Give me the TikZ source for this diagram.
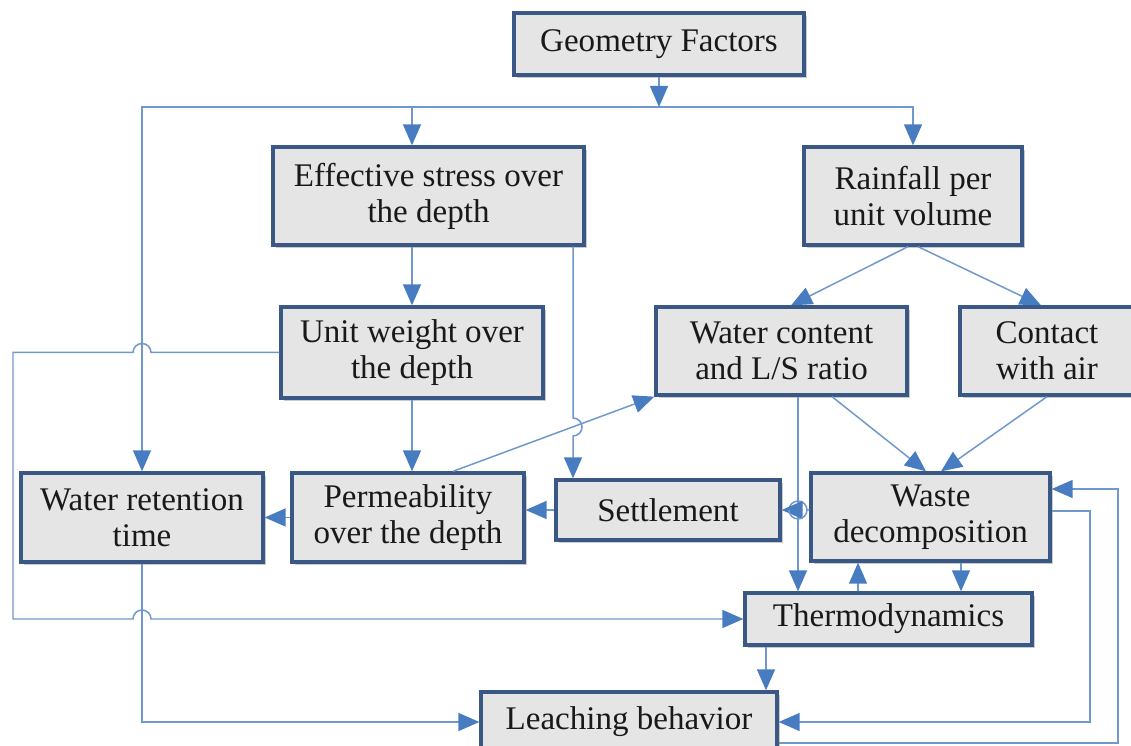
\documentclass[tikz,border=0pt]{standalone}
\usepackage{fontspec}
\setmainfont{Liberation Serif}
\usetikzlibrary{arrows.meta,positioning,calc,shadows}
\definecolor{boxline}{RGB}{58,88,134}
\definecolor{boxfill}{RGB}{229,229,229}
\definecolor{conn}{RGB}{112,152,204}
\definecolor{tipblue}{RGB}{72,124,192}

\begin{document}
\begin{tikzpicture}[x=0.02cm,y=0.02cm,
  box/.style={draw=boxline,line width=1.9pt,fill=boxfill,align=center,inner sep=0pt,
    font=\fontsize{18.8}{20.5}\selectfont,text=black!90,
    drop shadow={shadow xshift=0.06cm,shadow yshift=-0.06cm,opacity=0.35,fill=black!60}},
  ln/.style={draw=conn,line width=0.85pt},
  arr/.style={ln,-{Triangle[length=0.42cm,width=0.36cm,color=tipblue]}}]
  \useasboundingbox (0,0) rectangle (1131,746);
  \node[box,minimum width=5.8cm,minimum height=1.24cm] (geo) at (659,702) {Geometry Factors};
  \node[box,minimum width=6.22cm,minimum height=1.96cm] (eff) at (428.5,550) {Effective stress over\\the depth};
  \node[box,minimum width=4.36cm,minimum height=1.96cm] (rain) at (913,550) {Rainfall per\\unit volume};
  \node[box,minimum width=5.24cm,minimum height=1.82cm] (uw) at (412,393.5) {Unit weight over\\the depth};
  \node[box,minimum width=5.02cm,minimum height=1.76cm] (water) at (781.5,395) {Water content\\and L/S ratio};
  \node[box,minimum width=3.48cm,minimum height=1.76cm] (contact) at (1047,395) {Contact\\with air};
  \node[box,minimum width=4.84cm,minimum height=1.78cm] (wret) at (142,228.5) {Water retention\\time};
  \node[box,minimum width=4.64cm,minimum height=1.78cm] (perm) at (408,228.5) {Permeability\\over the depth};
  \node[box,minimum width=4.48cm,minimum height=1.2cm] (sett) at (668,236) {Settlement};
  \node[box,minimum width=4.78cm,minimum height=1.76cm] (waste) at (930.5,229) {Waste\\decomposition};
  \node[box,minimum width=5.74cm,minimum height=1.04cm] (thermo) at (888.5,127) {Thermodynamics};
  \node[box,minimum width=5.92cm,minimum height=1.2cm] (leach) at (629,24) {Leaching behavior};

  \coordinate (bus) at (659,639);
  \coordinate (hx) at (142,0);
  \coordinate (lx) at (13,0);
  \coordinate (sx) at (573,319);
  \coordinate (vx) at (798,0);
  \coordinate (tx) at (766,0);
  \coordinate (rx1) at (1090,0);
  \coordinate (rx2) at (1118,0);

  \draw[arr] (geo) -- (bus);
  \draw[arr] (bus) -| (wret);
  \draw[arr] (bus) -| (eff.north -| uw);
  \draw[arr] (bus) -| (rain);
  \draw[arr] (eff.south -| uw) -- (uw);
  \draw[arr] (uw) -- (uw |- perm.north);
  \draw[arr] (eff.south -| sx) -- ([yshift=0.18cm]sx) arc[start angle=90,end angle=-90,radius=0.18cm] -- (sett.north -| sx);
  \draw[arr] ([xshift=-0.1cm]rain.south) -- ([xshift=0.19cm]water.north);
  \draw[arr] ([xshift=0.1cm]rain.south) -- ([xshift=-0.12cm]contact.north);
  \draw[arr] ([xshift=0.9cm]perm.north) -- (water.south west);
  \draw[arr] ([xshift=1.01cm]water.south) -- ([xshift=-0.09cm]waste.north);
  \draw[arr] (contact.south) -- ([xshift=0.21cm]waste.north);
  \draw[arr] (water.south -| vx) -- (thermo.north -| vx);
  \draw[arr] (perm) -- (wret);
  \draw[arr] (sett.west) -- (sett.west -| perm.east);
  \draw[arr] (sett.east -| waste.west) -- ([xshift=0.18cm]sett.east -| vx) arc[start angle=0,end angle=180,radius=0.18cm] -- (sett.east);
  \draw[ln] ([yshift=-0.18cm]sett.east -| vx) arc[start angle=-90,end angle=0,radius=0.18cm];
  \draw[ln] ([yshift=-0.18cm]sett.east -| vx) arc[start angle=-90,end angle=-180,radius=0.18cm];
  \draw[arr] ([xshift=0.61cm]waste.south) -- ([xshift=0.61cm]waste.south |- thermo.north);
  \draw[arr] ([xshift=-0.61cm]thermo.north) -- ([xshift=-0.61cm]thermo.north |- waste.south);
  \draw[arr] (thermo.south -| tx) -- (leach.north -| tx);
  \draw[arr] (uw.west) -- ([xshift=0.18cm]uw.west -| hx) arc[start angle=0,end angle=180,radius=0.18cm] -- (uw.west -| lx) |- ([xshift=-0.18cm]thermo.west -| hx) arc[start angle=180,end angle=0,radius=0.18cm] -- (thermo.west);
  \draw[arr] (wret) |- (leach);
  \draw[arr] ([yshift=0.12cm]waste.east) -| (leach.east -| rx1) -- (leach.east);
  \draw[arr] ([yshift=-0.42cm]leach.east) -| ([yshift=0.56cm]waste.east -| rx2) -- ([yshift=0.56cm]waste.east);
\end{tikzpicture}
\end{document}
